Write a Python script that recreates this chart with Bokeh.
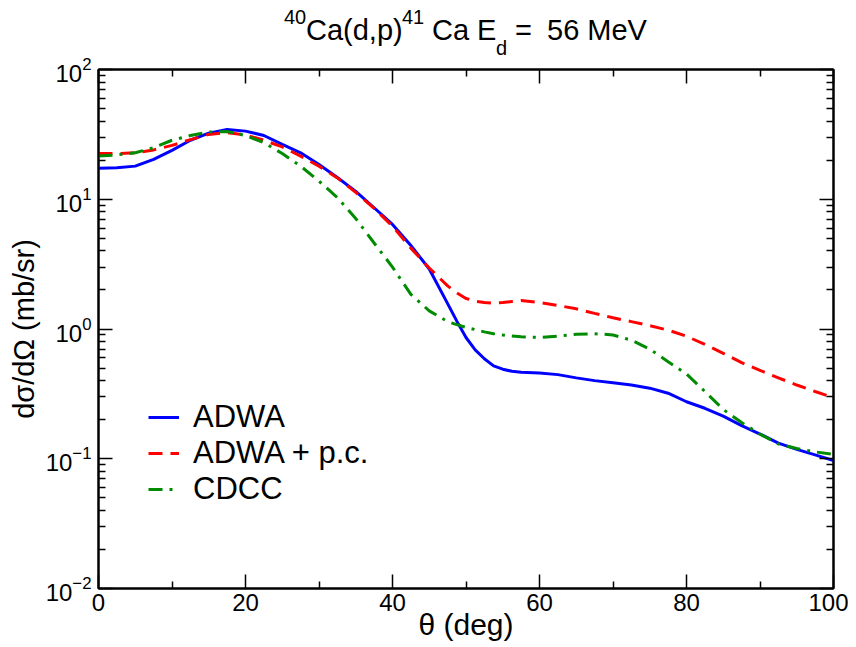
from bokeh.plotting import figure
from bokeh.layouts import column
from bokeh.models import (Range1d, FixedTicker, LinearAxis, LogAxis, Div,
                          Legend, LegendItem, CustomJSTickFormatter)
from bokeh.embed import file_html
from bokeh.resources import INLINE

# ---------------- data ----------------
angle = [0, 2.5, 5, 7.5, 10, 12.5, 15, 17.5, 20, 22.5, 25, 27.5, 30, 32.5, 35,
         37.5, 40, 42.5, 45, 47.5, 48.75, 50, 51.25, 52.5, 53.75, 55, 56.25,
         57.5, 60, 62.5, 65, 67.5, 70, 72.5, 75, 77.5, 80, 82.5, 85, 87.5, 90,
         92.5, 95, 97.5, 100]

adwa = [17.3, 17.5, 18.0, 20.3, 23.8, 28.5, 32.3, 34.5, 33.5, 31.0, 26.5, 22.8,
        18.5, 14.7, 11.5, 8.6, 6.4, 4.4, 2.9, 1.57, 1.15, 0.86, 0.69, 0.59,
        0.52, 0.49, 0.472, 0.465, 0.458, 0.445, 0.42, 0.40, 0.385, 0.37, 0.35,
        0.32, 0.275, 0.245, 0.213, 0.18, 0.155, 0.132, 0.118, 0.107, 0.097]

adwa_pc = [22.5, 22.5, 22.8, 24.0, 26.0, 28.8, 31.6, 32.6, 31.3, 28.5, 25.3,
           21.5, 18.0, 14.6, 11.3, 8.5, 6.2, 4.2, 2.95, 2.15, 1.9, 1.72, 1.64,
           1.6, 1.58, 1.6, 1.63, 1.66, 1.6, 1.52, 1.43, 1.32, 1.22, 1.14, 1.06,
           0.98, 0.88, 0.76, 0.65, 0.55, 0.48, 0.42, 0.37, 0.33, 0.295]

cdcc = [21.5, 22.0, 22.8, 25.0, 28.5, 31.0, 33.0, 33.3, 31.0, 27.3, 22.5, 18.0,
        13.8, 10.3, 7.1, 4.6, 3.0, 1.85, 1.38, 1.14, 1.08, 1.03, 0.99, 0.95,
        0.92, 0.90, 0.885, 0.87, 0.86, 0.88, 0.91, 0.92, 0.90, 0.82, 0.70,
        0.56, 0.45, 0.33, 0.24, 0.19, 0.155, 0.13, 0.12, 0.113, 0.108]

x_major = [0, 20, 40, 60, 80, 100]
x_minor = [10, 30, 50, 70, 90]
y_major = [0.01, 0.1, 1, 10, 100]
y_minor = [m * d for d in [0.01, 0.1, 1, 10] for m in range(2, 10)]

FONT = "Liberation Sans"
TICK = "24px"

# ---------------- title (HTML, real text) ----------------
# pieces of: 40Ca(d,p)41Ca E_d = 56 MeV  -> (text, left px, top px, size px)
title_pieces = [
    ("40", 284, 7, 20),
    ("Ca(d,p)", 306, 15.5, 29),
    ("41", 402, 7, 20),
    ("Ca", 432, 15.5, 29),
    ("E", 477, 15.5, 29),
    ("d", 496, 38, 20),
    ("=", 515, 15.5, 29),
    ("56 MeV", 547, 15.5, 29),
]
spans = "".join(
    f'<div style="position:absolute;left:{lx}px;top:{ty}px;'
    f'font-size:{fs}px;line-height:{fs}px;white-space:nowrap;">{txt}</div>'
    for txt, lx, ty, fs in title_pieces)
title_html = (f'<div style="position:relative;width:848px;height:50px;'
              f'font-family:\'{FONT}\';color:black;overflow:visible;">'
              f'{spans}</div>')
title = Div(text=title_html, width=848, height=50, margin=(0, 0, 0, 0),
            styles={"overflow": "visible"})

# ---------------- main plot ----------------
p = figure(width=848, height=597, y_axis_type="log",
           x_range=Range1d(0, 100), y_range=Range1d(0.01, 100),
           output_backend="svg", toolbar_location=None,
           min_border_left=98, min_border_right=15,
           min_border_top=19, min_border_bottom=59, margin=(0, 0, 0, 0))
p.xgrid.visible = False
p.ygrid.visible = False
p.outline_line_color = "black"
p.outline_line_width = 2
p.background_fill_color = "white"
p.border_fill_color = None

r1 = p.line(angle, adwa, line_color="#0000ff", line_width=3)
r2 = p.line(angle, adwa_pc, line_color="#ff0000", line_width=3,
            line_dash="14 8")
r3 = p.line(angle, cdcc, line_color="#008b00", line_width=3,
            line_dash="14 7 3 7")


def style_axis(ax, labels=True):
    ax.axis_line_color = "black"
    ax.axis_line_width = 2
    ax.major_tick_in = 14
    ax.major_tick_out = 0
    ax.minor_tick_in = 7
    ax.minor_tick_out = 0
    ax.major_tick_line_width = 1.5
    ax.minor_tick_line_width = 1.5
    ax.major_tick_line_color = "black"
    ax.minor_tick_line_color = "black"
    ax.major_label_text_font = FONT
    ax.major_label_text_color = "black"
    ax.axis_label_text_font = FONT
    ax.axis_label_text_color = "black"
    ax.axis_label_text_font_style = "normal"
    if labels:
        ax.major_label_text_font_size = TICK
    else:
        ax.formatter = CustomJSTickFormatter(code="return ''")
        ax.major_label_text_font_size = "1px"
        ax.major_label_standoff = 0


xt = FixedTicker(ticks=x_major, minor_ticks=x_minor)
yt = FixedTicker(ticks=y_major, minor_ticks=y_minor)

p.xaxis.ticker = xt
p.yaxis.ticker = yt
style_axis(p.xaxis[0])
style_axis(p.yaxis[0])
p.xaxis.major_label_standoff = 5
p.yaxis.major_label_standoff = 7

p.xaxis.axis_label = "θ (deg)"
p.xaxis.axis_label_text_font_size = "30px"
p.xaxis.axis_label_standoff = -6
p.yaxis.axis_label = "dσ/dΩ (mb/sr)"
p.yaxis.axis_label_text_font_size = "29px"
p.yaxis.axis_label_standoff = 3

top = LinearAxis(ticker=xt)
style_axis(top, labels=False)
p.add_layout(top, "above")
right = LogAxis(ticker=yt)
style_axis(right, labels=False)
p.add_layout(right, "right")

legend = Legend(items=[LegendItem(label="ADWA", renderers=[r1]),
                       LegendItem(label="ADWA + p.c.", renderers=[r2]),
                       LegendItem(label="CDCC", renderers=[r3])],
                location=(50, 81))
legend.border_line_color = None
legend.background_fill_alpha = 0
legend.padding = 0
legend.margin = 0
legend.spacing = 0
legend.glyph_width = 31
legend.glyph_height = 30
legend.label_height = 30
legend.label_standoff = 14
legend.label_text_font = FONT
legend.label_text_font_size = "31px"
legend.label_text_color = "black"
legend.label_text_baseline = "middle"
p.add_layout(legend)

layout = column(title, p, spacing=0)
open("out.html", "w").write(file_html(layout, INLINE))
